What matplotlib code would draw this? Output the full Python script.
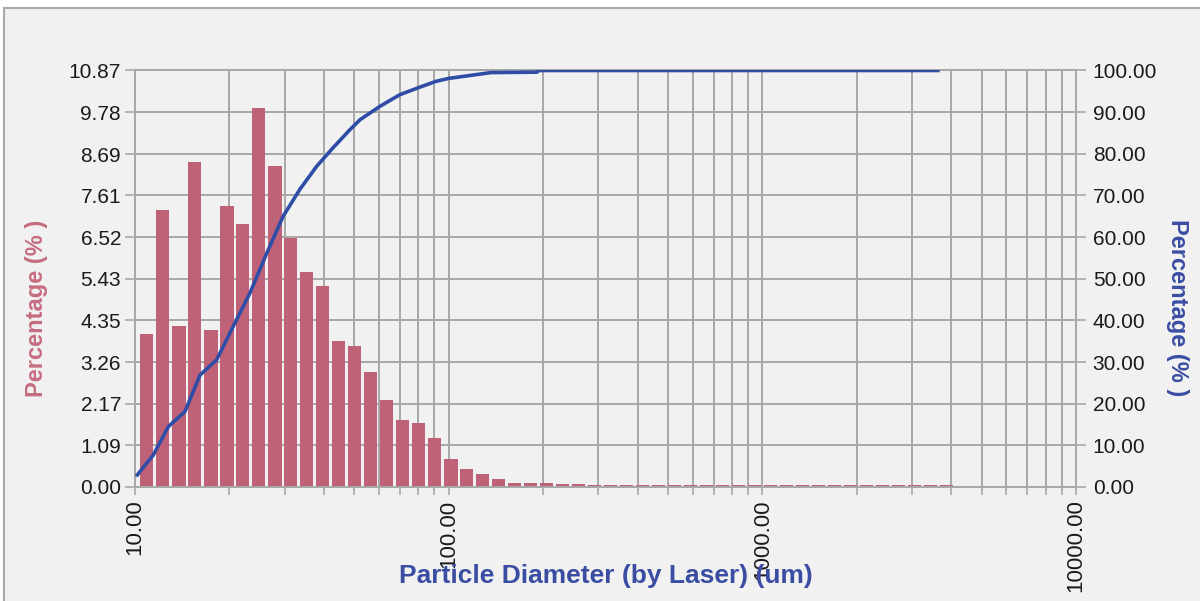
import numpy as np
import matplotlib
matplotlib.use("Agg")
import matplotlib.pyplot as plt
from matplotlib.ticker import FixedLocator, FuncFormatter, NullFormatter, LogLocator
from matplotlib.patches import Rectangle

# ---------------- data ----------------
# bin edges (um) of the differential distribution
bin_edges = [10.30, 11.58, 13.02, 14.65, 16.47, 18.53, 20.84, 23.43, 26.35, 29.64,
             33.33, 37.48, 42.15, 47.40, 53.31, 59.95, 67.42, 75.82, 85.27, 95.90,
             107.9, 121.3, 136.4, 153.4, 172.5, 194.0, 218.2, 245.4, 276.0, 310.4,
             349.1, 392.6, 441.5, 496.5, 558.4, 628.0, 706.3, 794.3, 893.2, 1004.0,
             1130.0, 1270.0, 1429.0, 1607.0, 1807.0, 2032.0, 2285.0, 2570.0, 2890.0,
             3251.0, 3656.0, 4111.0]
# differential percentage per bin (%)
bin_pct = [3.99, 7.22, 4.19, 8.48, 4.09, 7.34, 6.86, 9.89, 8.37, 6.50,
           5.61, 5.24, 3.82, 3.67, 2.99, 2.26, 1.74, 1.68, 1.27, 0.74,
           0.48, 0.33, 0.22, 0.11, 0.11, 0.11, 0.07, 0.07, 0.04, 0.04,
           0.04, 0.04, 0.04, 0.04, 0.04, 0.04, 0.04, 0.04, 0.04, 0.04,
           0.04, 0.04, 0.04, 0.04, 0.04, 0.04, 0.04, 0.04, 0.04, 0.04,
           0.04]
# cumulative curve (um, %)
cum_d = [10.17, 11.44, 12.77, 14.43, 16.12, 18.20, 20.55, 23.26, 26.26, 29.66,
         33.57, 37.95, 42.86, 48.46, 52.2, 60.4, 69.9, 80.9, 91.2, 100.0,
         119.5, 136.4, 191.2, 194.1, 3630.0]
cum_pct = [2.9, 7.7, 14.5, 18.1, 26.9, 30.5, 38.5, 46.6, 56.0, 65.0,
           71.5, 77.0, 81.5, 85.8, 88.2, 91.4, 94.2, 96.0, 97.4, 98.1,
           98.9, 99.5, 99.6, 100.0, 100.0]

left_ticks = [0.00, 1.09, 2.17, 3.26, 4.35, 5.43, 6.52, 7.61, 8.69, 9.78, 10.87]
right_ticks = [0, 10, 20, 30, 40, 50, 60, 70, 80, 90, 100]
x_major = [10, 100, 1000, 10000]

# ---------------- style ----------------
BG = "#F0F1F0"
GRID = "#A8A8A8"
BAR = "#C06277"
LINE = "#2F4DA6"
LBL_BLUE = "#3A4DA3"
LBL_PINK = "#C66D80"
FONT = ["Liberation Sans", "DejaVu Sans"]
plt.rcParams["font.family"] = FONT

fig = plt.figure(figsize=(12, 6.01), dpi=100, facecolor="white")
# outer panel
fig.patches.append(Rectangle((4 / 1200, -0.01), 1.01, (601 - 8) / 601 + 0.01,
                             transform=fig.transFigure, facecolor=BG,
                             edgecolor="#A9A9A9", linewidth=1.5, zorder=-10))

ax = fig.add_axes([135 / 1200, (601 - 487) / 601, (1076 - 135) / 1200, (487 - 70.5) / 601])
ax.set_facecolor(BG)
ax.set_xscale("log")
ax.set_xlim(10, 10000)
ax.set_ylim(0, 10.87)

edges = np.array(bin_edges)
lefts = edges[:-1] * 10 ** 0.0032
rights = edges[1:] * 10 ** (-0.0048)
ax.bar(lefts, bin_pct, width=rights - lefts, align="edge", color=BAR,
       linewidth=0, zorder=3)

ax.xaxis.set_major_locator(FixedLocator(x_major))
ax.xaxis.set_minor_locator(LogLocator(base=10, subs=np.arange(2, 10)))
ax.xaxis.set_major_formatter(FuncFormatter(lambda v, p: f"{v:.2f}"))
ax.xaxis.set_minor_formatter(NullFormatter())
ax.yaxis.set_major_locator(FixedLocator(left_ticks))
ax.yaxis.set_major_formatter(FuncFormatter(lambda v, p: f"{v:.2f}"))

ax.grid(True, which="both", axis="x", color=GRID, linewidth=1.4)
ax.grid(True, which="major", axis="y", color=GRID, linewidth=1.4)
ax.set_axisbelow(True)

for s in ax.spines.values():
    s.set_color(GRID)
    s.set_linewidth(1.4)

ax.tick_params(axis="x", which="both", length=6, width=1.2, color=GRID,
               labelsize=16, labelcolor="#1A1A1A", pad=3, labelrotation=90)
ax.tick_params(axis="y", length=7, width=1.2, color=GRID, labelsize=15,
               labelcolor="#1A1A1A", pad=3)

ax.set_xlabel("Particle Diameter (by Laser) (um)", fontsize=19, fontweight="bold",
              color=LBL_BLUE)
ax.xaxis.set_label_coords(0.5, -0.185)
ax.xaxis.label.set_zorder(1)
ax.set_ylabel("Percentage (% )", fontsize=17, fontweight="bold", color=LBL_PINK,
              va="center")
ax.yaxis.set_label_coords(-0.105, 0.43)

ax2 = ax.twinx()
ax2.set_ylim(0, 100)
ax2.yaxis.set_major_locator(FixedLocator(right_ticks))
ax2.yaxis.set_major_formatter(FuncFormatter(lambda v, p: f"{v:.2f}"))
ax2.plot(cum_d, cum_pct, color=LINE, linewidth=2.6, zorder=5)
for s in ax2.spines.values():
    s.set_color(GRID)
    s.set_linewidth(1.4)
ax2.tick_params(axis="y", length=7, width=1.2, color=GRID, labelsize=15,
                labelcolor="#1A1A1A", pad=5)
ax2.set_ylabel("Percentage (% )", fontsize=17, fontweight="bold", color=LBL_BLUE,
               rotation=-90, va="center")
ax2.yaxis.set_label_coords(1.1075, 0.43)

fig.savefig("out.png", dpi=100, facecolor="white")
